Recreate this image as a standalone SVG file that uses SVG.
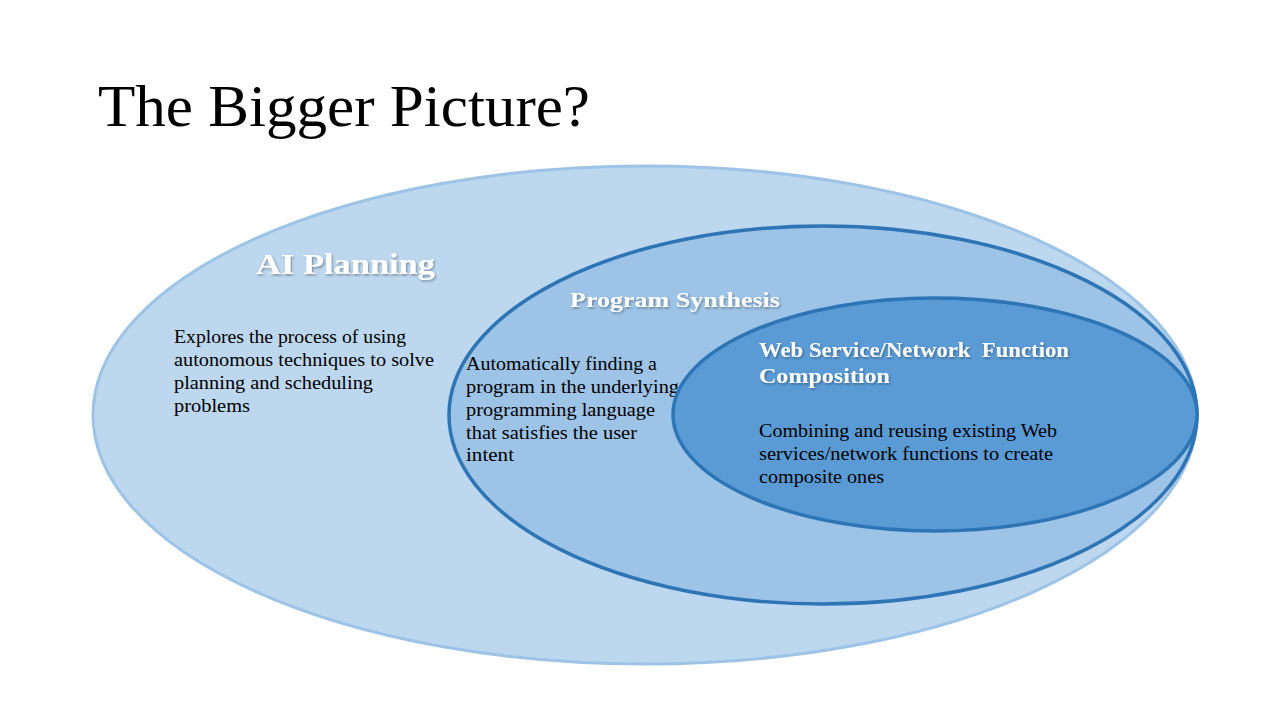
<svg xmlns="http://www.w3.org/2000/svg" width="1280" height="720" viewBox="0 0 1280 720">
<defs>
<filter id="sh" x="-10%" y="-30%" width="130%" height="160%">
<feDropShadow dx="1.2" dy="1.5" stdDeviation="0.8" flood-color="#000" flood-opacity="0.35"/>
</filter>
</defs>
<style>
.title{font-family:"Liberation Serif","DejaVu Serif",serif;font-size:60px;fill:#000}
.head{font-family:"Liberation Serif","DejaVu Serif",serif;font-weight:bold;fill:#fff}
.body{font-family:"Liberation Serif","DejaVu Serif",serif;font-size:19px;fill:#000}
</style>
<rect width="1280" height="720" fill="#fff"/>
<text class="title" x="98" y="126" textLength="492" lengthAdjust="spacingAndGlyphs">The Bigger Picture?</text>
<g id="ai-planning">
<ellipse cx="645" cy="415" rx="552" ry="249" fill="#bdd7ee" stroke="#9dc3e6" stroke-width="3"/>
<text class="head" x="256" y="274" font-size="30" filter="url(#sh)" textLength="179" lengthAdjust="spacingAndGlyphs">AI Planning</text>
<text class="body" x="174" y="343" textLength="232" lengthAdjust="spacingAndGlyphs">Explores the process of using</text>
<text class="body" x="174" y="366" textLength="260" lengthAdjust="spacingAndGlyphs">autonomous techniques to solve</text>
<text class="body" x="174" y="389" textLength="199" lengthAdjust="spacingAndGlyphs">planning and scheduling</text>
<text class="body" x="174" y="412" textLength="76" lengthAdjust="spacingAndGlyphs">problems</text>
</g>
<g id="program-synthesis">
<ellipse cx="823" cy="415" rx="374" ry="189" fill="#9dc3e6" stroke="#2e75b6" stroke-width="3.5"/>
<text class="head" x="570" y="307" font-size="22" filter="url(#sh)" textLength="210" lengthAdjust="spacingAndGlyphs">Program Synthesis</text>
<text class="body" x="466" y="370" textLength="191" lengthAdjust="spacingAndGlyphs">Automatically finding a</text>
<text class="body" x="466" y="393" textLength="213" lengthAdjust="spacingAndGlyphs">program in the underlying</text>
<text class="body" x="466" y="416" textLength="189" lengthAdjust="spacingAndGlyphs">programming language</text>
<text class="body" x="466" y="439" textLength="171" lengthAdjust="spacingAndGlyphs">that satisfies the user</text>
<text class="body" x="466" y="461" textLength="48" lengthAdjust="spacingAndGlyphs">intent</text>
</g>
<g id="web-service">
<ellipse cx="935" cy="414.5" rx="262" ry="116.5" fill="#5b9bd5" stroke="#2e75b6" stroke-width="3.5"/>
<text class="head" x="759" y="357" font-size="20" filter="url(#sh)" textLength="310" lengthAdjust="spacingAndGlyphs" xml:space="preserve">Web Service/Network  Function</text>
<text class="head" x="759" y="383" font-size="20" filter="url(#sh)" textLength="131" lengthAdjust="spacingAndGlyphs">Composition</text>
<text class="body" x="759" y="437" textLength="298" lengthAdjust="spacingAndGlyphs">Combining and reusing existing Web</text>
<text class="body" x="759" y="460" textLength="294" lengthAdjust="spacingAndGlyphs">services/network functions to create</text>
<text class="body" x="759" y="483" textLength="125" lengthAdjust="spacingAndGlyphs">composite ones</text>
</g>
<g id="connectors"/>
</svg>
